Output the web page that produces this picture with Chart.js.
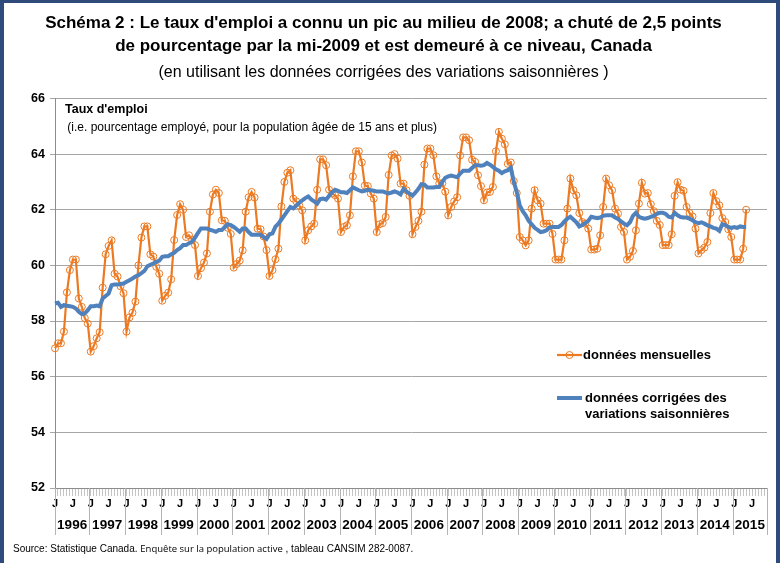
<!DOCTYPE html>
<html>
<head>
<meta charset="utf-8">
<script src="https://cdn.jsdelivr.net/npm/chart.js@4.4.1/dist/chart.umd.min.js"></script>
<style>
  html, body { margin: 0; padding: 0; background: #fff; }
  #wrap { position: relative; width: 783px; height: 563px; overflow: hidden; }
  #chart { position: absolute; left: 0; top: 0; }
  #frame { position: absolute; left: 0; top: 0; width: 772px; height: 620px;
           border: 4px solid #2f4b7c; border-top-width: 3px; pointer-events: none; }
  #source { position: absolute; left: 13px; top: 542px; font-family: "Liberation Sans", Arial, sans-serif;
            font-size: 10px; color: #000; white-space: nowrap; }
  #source .small { font-family: "Open Sans", sans-serif; font-size: 9.5px; }
</style>
</head>
<body>
<div id="wrap">
  <canvas id="chart" width="783" height="563"></canvas>
  <div id="frame"></div>
  <div id="source">Source: Statistique Canada. <span class="small">Enquête sur la population active</span> , tableau CANSIM 282-0087.</div>
</div>
<script>
const years = [1996, 1997, 1998, 1999, 2000, 2001, 2002, 2003, 2004, 2005,
               2006, 2007, 2008, 2009, 2010, 2011, 2012, 2013, 2014, 2015];
const months = ['J', 'F', 'M', 'A', 'M', 'J', 'J', 'A', 'S', 'O', 'N', 'D'];

// données mensuelles (non désaisonnalisées), Jan 1996 - May 2015
const monthly = [
  57.02, 57.2, 57.2, 57.62, 59.03, 59.83, 60.21, 60.21, 58.81, 58.51, 58.11, 57.91,
  56.9, 57.1, 57.38, 57.6, 59.2, 60.4, 60.7, 60.9, 59.7, 59.6, 59.25, 59.0,
  57.62, 58.13, 58.3, 58.7, 60.0, 61.0, 61.4, 61.4, 60.4, 60.32, 59.95, 59.7,
  58.73, 58.91, 59.02, 59.5, 60.91, 61.81, 62.2, 62.0, 61.02, 61.08, 60.93, 60.73,
  59.62, 59.9, 60.1, 60.43, 61.93, 62.55, 62.72, 62.6, 61.62, 61.6, 61.35, 61.13,
  59.92, 60.05, 60.17, 60.54, 61.93, 62.45, 62.64, 62.44, 61.32, 61.3, 61.04, 60.55,
  59.62, 59.83, 60.22, 60.6, 62.12, 63.0, 63.33, 63.42, 62.4, 62.3, 62.15, 61.98,
  60.9, 61.26, 61.4, 61.5, 62.72, 63.81, 63.81, 63.6, 62.72, 62.58, 62.52, 62.4,
  61.2, 61.38, 61.44, 61.8, 63.2, 64.1, 64.1, 63.7, 62.87, 62.85, 62.58, 62.4,
  61.2, 61.48, 61.52, 61.74, 63.25, 63.95, 64.0, 63.84, 62.94, 62.94, 62.7, 62.5,
  61.12, 61.38, 61.6, 61.93, 63.62, 64.2, 64.2, 63.96, 63.2, 62.95, 62.95, 62.65,
  61.8, 62.1, 62.3, 62.45, 63.95, 64.6, 64.6, 64.5, 63.8, 63.72, 63.24, 62.85,
  62.34, 62.62, 62.64, 62.82, 64.1, 64.8, 64.55, 64.35, 63.65, 63.7, 63.03, 62.6,
  61.02, 60.9, 60.72, 60.9, 62.04, 62.7, 62.34, 62.22, 61.5, 61.5, 61.5, 61.13,
  60.21, 60.21, 60.21, 60.9, 62.04, 63.12, 62.7, 62.52, 61.88, 61.56, 61.5, 61.32,
  60.57, 60.57, 60.6, 61.08, 62.1, 63.12, 62.88, 62.7, 62.04, 61.86, 61.38, 61.2,
  60.21, 60.31, 60.52, 61.26, 62.22, 62.97, 62.58, 62.6, 62.2, 61.95, 61.6, 61.45,
  60.73, 60.73, 60.73, 61.12, 62.5, 62.99, 62.72, 62.68, 62.1, 61.88, 61.76, 61.32,
  60.43, 60.55, 60.64, 60.84, 61.88, 62.6, 62.31, 62.16, 61.7, 61.56, 61.3, 61.02,
  60.21, 60.21, 60.21, 60.6, 62.0
];

// données corrigées des variations saisonnières
const adjusted = [
  58.63, 58.66, 58.51, 58.57, 58.55, 58.53, 58.51, 58.45, 58.33, 58.25, 58.27, 58.39,
  58.53, 58.53, 58.56, 58.53, 58.81, 58.9, 58.99, 59.29, 59.31, 59.31, 59.33, 59.35,
  59.41, 59.47, 59.53, 59.6, 59.65, 59.72, 59.8, 59.97, 60.02, 60.07, 60.13, 60.17,
  60.31, 60.33, 60.33, 60.4, 60.45, 60.55, 60.62, 60.73, 60.73, 60.8, 60.85, 61.0,
  61.17, 61.33, 61.33, 61.33, 61.28, 61.25, 61.21, 61.27, 61.27, 61.38, 61.48, 61.45,
  61.38, 61.3, 61.21, 61.33, 61.33, 61.2, 61.1, 61.1, 61.1, 61.1, 61.02, 60.95,
  61.12, 61.15, 61.39, 61.5, 61.65, 61.8, 61.95, 62.1, 62.05, 62.15, 62.25, 62.34,
  62.42, 62.48, 62.37, 62.3, 62.22, 62.38, 62.4, 62.36, 62.5, 62.62, 62.72, 62.68,
  62.63, 62.63, 62.6, 62.7, 62.8, 62.75, 62.7, 62.66, 62.68, 62.72, 62.7, 62.68,
  62.66, 62.66, 62.66, 62.62, 62.59, 62.62, 62.66, 62.62, 62.55, 62.75, 62.65, 62.58,
  62.51, 62.62, 62.75, 62.92, 62.9, 62.8, 62.8, 62.8, 62.82, 62.82, 63.0, 63.15,
  63.2, 63.23, 63.2, 63.17, 63.3, 63.4, 63.4, 63.4, 63.5, 63.6, 63.6, 63.58,
  63.6, 63.68, 63.62, 63.54, 63.45, 63.4, 63.32, 63.38, 63.42, 63.51, 63.0, 62.64,
  62.16, 61.95, 61.8, 61.6, 61.48, 61.35, 61.28, 61.2, 61.22, 61.26, 61.36, 61.38,
  61.38, 61.38, 61.45, 61.58, 61.68, 61.75, 61.65, 61.55, 61.4, 61.45, 61.52, 61.6,
  61.75, 61.72, 61.7, 61.72, 61.78, 61.8, 61.8, 61.8, 61.72, 61.67, 61.58, 61.5,
  61.44, 61.55, 61.78, 61.89, 61.75, 61.7, 61.68, 61.7, 61.74, 61.78, 61.85, 61.89,
  61.89, 61.85, 61.75, 61.72, 61.89, 61.8, 61.74, 61.72, 61.72, 61.68, 61.62, 61.55,
  61.52, 61.55, 61.5, 61.44, 61.4, 61.35, 61.32, 61.24, 61.48, 61.45, 61.38, 61.35,
  61.38, 61.35, 61.4, 61.38, 61.38
];

const ORANGE = '#ec7a22';
const BLUE = '#4f81bd';
const FONT = '"Liberation Sans", Arial, sans-serif';

// one category per month, Jan 1996 - Dec 2015
const categories = years.flatMap(y => months.map((m, i) => `${m} ${y}-${i + 1}`));

// draws the year row, the notes inside the plot and the legend
const extras = {
  id: 'extras',
  afterDraw(chart) {
    const { ctx, chartArea: area } = chart;
    const x = chart.scales.x;
    const step = x.getPixelForValue(1) - x.getPixelForValue(0);
    ctx.save();

    // year separators and labels
    ctx.strokeStyle = '#b4b4b4';
    ctx.lineWidth = 1;
    ctx.fillStyle = '#000';
    ctx.font = `bold 13.5px ${FONT}`;
    ctx.textAlign = 'center';
    ctx.textBaseline = 'middle';
    years.forEach((y, k) => {
      const start = k === 0 ? area.left : x.getPixelForValue(k * 12) - step / 2;
      const end = k === years.length - 1 ? area.right : x.getPixelForValue(k * 12 + 12) - step / 2;
      ctx.beginPath();
      ctx.moveTo(Math.round(start) + 0.5, area.bottom);
      ctx.lineTo(Math.round(start) + 0.5, area.bottom + 47);
      ctx.stroke();
      ctx.fillText(String(y), (start + end) / 2, area.bottom + 37);
    });
    ctx.beginPath();
    ctx.moveTo(Math.round(area.right) + 0.5, area.bottom);
    ctx.lineTo(Math.round(area.right) + 0.5, area.bottom + 47);
    ctx.stroke();

    // notes
    ctx.textAlign = 'left';
    ctx.font = `bold 12.5px ${FONT}`;
    ctx.fillText("Taux d'emploi", area.left + 10, area.top + 11);
    ctx.font = `12px ${FONT}`;
    ctx.fillText(' (i.e. pourcentage employé, pour la population âgée de 15 ans et plus)', area.left + 9, area.top + 29);

    // legend
    const ds = chart.data.datasets;
    const lx = 557, ly1 = 355, ly2 = 398;
    ctx.strokeStyle = ds[0].borderColor;
    ctx.lineWidth = ds[0].borderWidth;
    ctx.beginPath();
    ctx.moveTo(lx, ly1);
    ctx.lineTo(lx + 25, ly1);
    ctx.stroke();
    ctx.lineWidth = ds[0].pointBorderWidth;
    ctx.beginPath();
    ctx.arc(lx + 12.5, ly1, ds[0].pointRadius, 0, Math.PI * 2);
    ctx.stroke();
    ctx.strokeStyle = ds[1].borderColor;
    ctx.lineWidth = ds[1].borderWidth;
    ctx.beginPath();
    ctx.moveTo(lx, ly2);
    ctx.lineTo(lx + 25, ly2);
    ctx.stroke();
    ctx.fillStyle = '#000';
    ctx.font = `bold 13px ${FONT}`;
    ctx.fillText(ds[0].label, lx + 26, ly1);
    ctx.fillText('données corrigées des', lx + 28, ly2);
    ctx.fillText('variations saisonnières', lx + 28, ly2 + 16);
    ctx.restore();
  }
};

new Chart(document.getElementById('chart'), {
  type: 'line',
  data: {
    labels: categories,
    datasets: [
      {
        label: 'données mensuelles',
        data: monthly,
        borderColor: ORANGE,
        borderWidth: 2.2,
        pointRadius: 3.5,
        pointBorderWidth: 1,
        pointBorderColor: ORANGE,
        pointBackgroundColor: 'rgba(255,255,255,0)',
        tension: 0,
        order: 2
      },
      {
        label: 'données corrigées des variations saisonnières',
        data: adjusted,
        borderColor: BLUE,
        borderWidth: 4,
        pointRadius: 0,
        tension: 0,
        order: 1
      }
    ]
  },
  options: {
    responsive: false,
    animation: false,
    devicePixelRatio: 1,
    layout: { padding: { left: 0, right: 16, top: 0, bottom: 0 } },
    plugins: {
      legend: { display: false },
      tooltip: { enabled: false },
      title: {
        display: true,
        text: [
          "Schéma 2 : Le taux d'emploi a connu un pic au milieu de 2008; a chuté de 2,5 points",
          'de pourcentage par la mi-2009 et est demeuré à ce niveau, Canada'
        ],
        color: '#000',
        font: { family: FONT, size: 17, weight: 'bold', lineHeight: 1.36 },
        padding: { top: 12, bottom: 0 }
      },
      subtitle: {
        display: true,
        text: '(en utilisant les données corrigées des variations saisonnières )',
        color: '#000',
        font: { family: FONT, size: 16, lineHeight: 1.2 },
        padding: { top: 5, bottom: 16 }
      }
    },
    scales: {
      x: {
        type: 'category',
        offset: false,
        border: { color: '#8c8c8c' },
        grid: { drawOnChartArea: false, drawTicks: true, tickLength: 8, color: '#c4c4c4' },
        ticks: {
          autoSkip: false,
          maxRotation: 0,
          minRotation: 0,
          padding: 1,
          color: '#000',
          font: { family: FONT, size: 11, weight: 'bold' },
          callback: (v, i) => (i % 6 === 0 ? months[i % 12] : '')
        },
        afterFit: s => { s.height = 75; }
      },
      y: {
        min: 52,
        max: 66,
        border: { color: '#8c8c8c' },
        grid: { color: '#a6a6a6', tickLength: 5 },
        ticks: {
          stepSize: 2,
          padding: 5,
          color: '#000',
          font: { family: FONT, size: 12.5, weight: 'bold' }
        },
        afterFit: s => { s.width = 55; }
      }
    }
  },
  plugins: [extras]
});
</script>
</body>
</html>
